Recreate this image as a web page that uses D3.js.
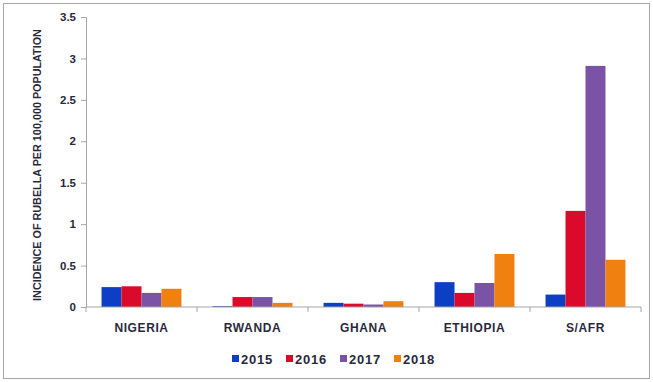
<!DOCTYPE html>
<html>
<head>
<meta charset="utf-8">
<script src="https://cdn.jsdelivr.net/npm/d3@7"></script>
<style>
  body { margin: 0; background: #fff; }
  text { font-family: "Liberation Sans", Arial, sans-serif; font-weight: bold; fill: #29293d; }
</style>
</head>
<body>
<div id="chart"></div>
<script>
const countries = ['NIGERIA', 'RWANDA', 'GHANA', 'ETHIOPIA', 'S/AFR'];
const years = ['2015', '2016', '2017', '2018'];
const values2015 = [0.24, 0.01, 0.05, 0.30, 0.15];
const values2016 = [0.25, 0.12, 0.04, 0.17, 1.16];
const values2017 = [0.17, 0.12, 0.03, 0.29, 2.91];
const values2018 = [0.22, 0.05, 0.07, 0.64, 0.57];
const yTicks = [0, 0.5, 1, 1.5, 2, 2.5, 3, 3.5];
const colors = ['#0d3fc4', '#dc0a2a', '#7a52a6', '#f0800f'];

const series = [values2015, values2016, values2017, values2018];

const width = 653, height = 382;
const margin = {top: 17, right: 12, bottom: 75, left: 86};
const innerW = width - margin.left - margin.right;
const innerH = height - margin.top - margin.bottom;

const svg = d3.select('#chart').append('svg')
    .attr('width', width)
    .attr('height', height);

// outer frame
svg.append('rect')
    .attr('x', 3.5).attr('y', 3.5)
    .attr('width', width - 7).attr('height', height - 7)
    .attr('fill', '#fff')
    .attr('stroke', '#a6a6a6');

const g = svg.append('g')
    .attr('transform', `translate(${margin.left},${margin.top})`);

const x0 = d3.scaleBand()
    .domain(countries)
    .range([0, innerW])
    .paddingInner(0.28)
    .paddingOuter(0.14);

const x1 = d3.scaleBand()
    .domain(years)
    .range([0, x0.bandwidth()]);

const y = d3.scaleLinear()
    .domain([0, 3.5])
    .range([innerH, 0]);

// bars
const groups = g.selectAll('.group')
    .data(countries)
    .enter().append('g')
    .attr('class', 'group')
    .attr('transform', d => `translate(${x0(d)},0)`);

groups.selectAll('rect')
    .data((c, i) => years.map((yr, j) => ({year: yr, value: series[j][i], color: colors[j]})))
    .enter().append('rect')
    .attr('x', d => x1(d.year))
    .attr('y', d => y(d.value))
    .attr('width', x1.bandwidth())
    .attr('height', d => innerH - y(d.value))
    .attr('fill', d => d.color);

// y axis
const yAxis = g.append('g')
    .call(d3.axisLeft(y).tickValues(yTicks).tickSize(5).tickPadding(5).tickFormat(d3.format('')));
yAxis.selectAll('path, line').attr('stroke', '#a6a6a6');
yAxis.selectAll('text')
    .attr('fill', '#29293d')
    .style('font-size', '11.5px')
    .style('font-family', '"Liberation Sans", Arial, sans-serif')
    .style('font-weight', 'bold');

// x axis with boundary ticks
const xAxisG = g.append('g').attr('transform', `translate(0,${innerH})`);
xAxisG.append('line')
    .attr('x1', 0).attr('x2', innerW)
    .attr('stroke', '#a6a6a6');
const boundaries = d3.range(countries.length + 1).map(i => i * innerW / countries.length);
xAxisG.selectAll('.tick')
    .data(boundaries)
    .enter().append('line')
    .attr('x1', d => d).attr('x2', d => d)
    .attr('y1', 0).attr('y2', 5)
    .attr('stroke', '#a6a6a6');
xAxisG.selectAll('.label')
    .data(countries)
    .enter().append('text')
    .attr('x', d => x0(d) + x0.bandwidth() / 2)
    .attr('y', 25)
    .attr('text-anchor', 'middle')
    .style('font-size', '12px')
    .style('letter-spacing', '0.6px')
    .text(d => d);

// y axis title
svg.append('text')
    .attr('transform', `translate(41,165) rotate(-90)`)
    .attr('text-anchor', 'middle')
    .style('font-size', '10.8px')
    .text('INCIDENCE OF RUBELLA PER 100,000 POPULATION');

// legend
const legend = svg.append('g')
    .attr('transform', 'translate(232,359)');
years.forEach((yr, i) => {
    const item = legend.append('g').attr('transform', `translate(${i * 54},0)`);
    item.append('rect')
        .attr('x', 0).attr('y', -4)
        .attr('width', 7).attr('height', 7)
        .attr('fill', colors[i]);
    item.append('text')
        .attr('x', 9).attr('y', 4.5)
        .style('font-size', '13px')
        .style('letter-spacing', '0.8px')
        .text(yr);
});
</script>
</body>
</html>
